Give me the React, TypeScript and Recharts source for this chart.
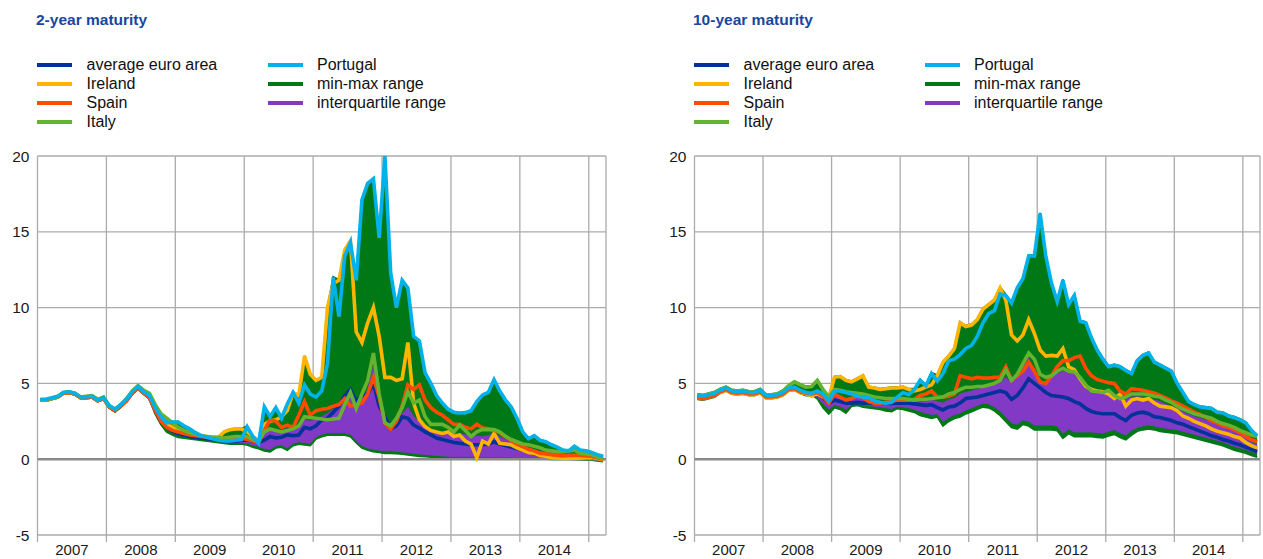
import React from 'react'
import {
  ComposedChart,
  Line,
  Area,
  XAxis,
  YAxis,
  CartesianGrid,
  ReferenceLine,
} from 'recharts'

// monthly observations, Jan 2007 - Mar 2015
const years = ['2007', '2008', '2009', '2010', '2011', '2012', '2013', '2014']
const yTicks = [-5, 0, 5, 10, 15, 20]
const monthTicks = [0, 12, 24, 36, 48, 60, 72, 84, 96, 99]

// ---- 2-year maturity ----
const avg2 = [
  3.9, 3.9, 4.0, 4.1, 4.35, 4.4, 4.3, 4.05, 4.05, 4.1, 3.85, 4.0,
  3.45, 3.2, 3.5, 3.85, 4.35, 4.7, 4.35, 4.05, 3.2, 2.5, 2.1, 1.85,
  1.7, 1.6, 1.5, 1.45, 1.4, 1.35, 1.3, 1.25, 1.2, 1.2, 1.2, 1.25,
  1.25, 1.2, 1.1, 1.25, 1.5, 1.4, 1.45, 1.6, 1.55, 1.6, 2.1, 2.0,
  2.2, 2.6, 2.7, 3.1, 3.5, 4.2, 4.6, 3.8, 4.2, 4.3, 5.0, 3.5,
  2.8, 2.0, 2.2, 2.8, 2.7, 2.25, 2.05, 1.8, 1.6, 1.4, 1.3, 1.2,
  1.1, 1.05, 1.0, 0.95, 0.95, 0.95, 1.0, 1.15, 1.0, 0.9, 0.8, 0.7,
  0.6, 0.5, 0.4, 0.35, 0.3, 0.22, 0.2, 0.2, 0.2, 0.2, 0.15, 0.12,
  0.1, 0.05, -0.05,
]
const ie2 = [
  3.9, 3.9, 4.0, 4.1, 4.35, 4.4, 4.3, 4.05, 4.05, 4.1, 3.85, 4.0,
  3.5, 3.25, 3.55, 3.9, 4.4, 4.75, 4.4, 4.15, 3.35, 2.7, 2.3, 2.1,
  1.9, 1.85, 1.75, 1.65, 1.55, 1.5, 1.45, 1.45, 1.8, 1.95, 2.0, 2.0,
  1.8, 1.5, 1.2, 2.3, 2.5, 2.6, 2.8, 3.2, 4.4, 4.2, 6.8, 5.6,
  5.2, 5.4, 10.0, 11.6, 11.8, 13.8, 14.4, 8.4, 7.7, 9.0, 10.0, 8.1,
  5.4, 5.4, 5.2, 5.3, 7.7, 3.7, 2.6, 2.15, 1.9, 1.8, 1.7, 1.8,
  1.5, 1.6, 1.2, 1.0, 0.1, 1.2, 1.0, 1.7, 1.05, 1.0, 0.95, 0.75,
  0.6, 0.45, 0.4, 0.25, 0.2, 0.1, 0.08, 0.07, 0.07, 0.07, 0.08, 0.1,
  0.12, 0.05, -0.05,
]
const es2 = [
  3.9, 3.9, 4.0, 4.1, 4.35, 4.4, 4.3, 4.05, 4.05, 4.1, 3.85, 4.0,
  3.45, 3.2, 3.5, 3.85, 4.35, 4.7, 4.35, 4.05, 3.2, 2.5, 2.1, 1.9,
  1.8, 1.7, 1.6, 1.55, 1.5, 1.45, 1.4, 1.35, 1.3, 1.3, 1.3, 1.4,
  1.3, 1.2, 1.1, 1.9, 2.6, 2.5, 2.1, 2.25, 2.1, 2.9, 3.8, 2.9,
  3.2, 3.3, 3.35, 3.5, 3.6, 4.0, 3.5, 3.6, 3.7, 4.3, 5.4, 4.1,
  2.4, 2.0, 2.5, 3.5, 4.9, 4.6, 4.9, 3.9, 3.4, 3.1, 2.9, 2.6,
  2.3, 2.3, 2.1, 2.0, 2.3, 2.05, 2.0, 1.9, 1.75, 1.5, 1.2, 1.0,
  0.85, 0.65, 0.55, 0.4, 0.35, 0.3, 0.25, 0.22, 0.25, 0.25, 0.25, 0.22,
  0.2, 0.1, 0.0,
]
const it2 = [
  3.9, 3.9, 4.0, 4.1, 4.4, 4.45, 4.35, 4.1, 4.15, 4.2, 3.95, 4.1,
  3.5, 3.3, 3.6, 4.0, 4.5, 4.85, 4.55, 4.35, 3.6, 3.0, 2.7, 2.4,
  2.1, 1.9, 1.75, 1.65, 1.55, 1.5, 1.45, 1.45, 1.4, 1.45, 1.5, 1.5,
  1.5, 1.3, 1.2, 1.8, 2.0, 1.9, 1.8, 1.9, 2.0, 2.2, 2.8, 2.75,
  2.7, 2.65, 2.6, 2.65, 2.7, 3.6, 4.4, 3.35, 4.3, 5.2, 7.0, 4.3,
  2.4, 2.2, 2.7, 3.4, 4.45, 3.7, 3.9, 2.8, 2.3, 2.3, 2.3, 2.1,
  1.8, 2.25, 1.9, 1.5, 1.8, 1.97, 1.95, 1.95, 1.8, 1.5, 1.3, 1.15,
  1.0, 0.95, 0.85, 0.75, 0.6, 0.55, 0.5, 0.5, 0.55, 0.6, 0.4, 0.35,
  0.3, 0.15, 0.05,
]
const pt2 = [
  3.95, 3.95, 4.05, 4.15, 4.4, 4.45, 4.35, 4.1, 4.1, 4.15, 3.9, 4.05,
  3.55, 3.3, 3.6, 3.95, 4.45, 4.8, 4.45, 4.2, 3.4, 2.8, 2.4, 2.45,
  2.45, 2.2, 2.0, 1.75, 1.55, 1.45, 1.35, 1.25, 1.2, 1.2, 1.25, 1.3,
  2.15, 1.5, 1.05, 3.45, 2.8, 3.4, 2.7, 3.65, 4.4, 3.7, 4.9, 4.3,
  4.1, 4.5, 6.3, 12.0, 9.4, 13.4, 14.3, 11.8, 17.1, 18.2, 18.5, 14.6,
  20.0, 12.3, 10.0, 11.8, 11.3, 8.1, 7.8, 5.7, 5.0, 4.2, 3.7, 3.3,
  3.1, 3.05, 3.07, 3.2, 3.8, 4.23, 4.4, 5.25, 4.5, 3.9, 3.45, 2.7,
  1.8, 1.35, 1.55, 1.25, 1.15, 0.95, 0.8, 0.6, 0.55, 0.85, 0.6, 0.55,
  0.45, 0.3, 0.2,
]
const min2 = [
  3.85, 3.85, 3.95, 4.05, 4.3, 4.35, 4.25, 4.0, 4.0, 4.05, 3.8, 3.95,
  3.4, 3.15, 3.45, 3.8, 4.3, 4.65, 4.3, 4.0, 3.0, 2.3, 1.8, 1.6,
  1.45, 1.4, 1.35, 1.3, 1.25, 1.2, 1.15, 1.1, 1.05, 1.0, 1.0, 1.0,
  0.95, 0.8, 0.7, 0.55, 0.5, 0.75, 0.8, 0.6, 0.9, 1.0, 0.95, 0.9,
  1.35, 1.5, 1.6, 1.6, 1.6, 1.6, 1.5, 1.1, 0.75, 0.6, 0.5, 0.45,
  0.4, 0.4, 0.38, 0.35, 0.3, 0.25, 0.2, 0.18, 0.15, 0.12, 0.1, 0.08,
  0.06, 0.05, 0.05, 0.05, 0.05, 0.05, 0.05, 0.05, 0.05, 0.05, 0.04, 0.04,
  0.04, 0.03, 0.03, 0.02, 0.02, 0.0, 0.0, 0.0, 0.0, -0.02, -0.03, -0.05,
  -0.05, -0.1, -0.15,
]
const max2 = [
  3.97, 3.97, 4.07, 4.17, 4.42, 4.47, 4.37, 4.12, 4.17, 4.22, 3.97, 4.12,
  3.57, 3.32, 3.62, 4.02, 4.52, 4.87, 4.57, 4.37, 3.62, 3.02, 2.72, 2.47,
  2.47, 2.22, 2.02, 1.77, 1.57, 1.52, 1.47, 1.47, 1.82, 1.97, 2.02, 2.02,
  2.17, 1.52, 1.22, 3.47, 2.82, 3.42, 2.82, 3.67, 4.42, 4.22, 6.82, 5.62,
  5.22, 5.42, 10.02, 12.02, 11.82, 13.82, 14.42, 11.82, 17.12, 18.22, 18.52, 14.62,
  20.0, 12.32, 10.02, 11.82, 11.32, 8.12, 7.82, 5.72, 5.02, 4.22, 3.72, 3.32,
  3.12, 3.07, 3.09, 3.22, 3.82, 4.25, 4.42, 5.27, 4.52, 3.92, 3.47, 2.72,
  1.82, 1.37, 1.57, 1.27, 1.17, 0.97, 0.82, 0.62, 0.57, 0.87, 0.62, 0.57,
  0.47, 0.32, 0.22,
]
const q1_2 = [
  3.88, 3.88, 3.98, 4.08, 4.33, 4.38, 4.28, 4.03, 4.03, 4.08, 3.83, 3.98,
  3.43, 3.18, 3.48, 3.83, 4.33, 4.68, 4.33, 4.02, 3.1, 2.4, 1.95, 1.75,
  1.6, 1.55, 1.45, 1.4, 1.35, 1.3, 1.25, 1.2, 1.15, 1.1, 1.1, 1.1,
  1.05, 0.95, 0.85, 0.7, 0.65, 0.9, 0.95, 0.75, 1.05, 1.15, 1.1, 1.05,
  1.5, 1.65, 1.75, 1.75, 1.75, 1.75, 1.65, 1.25, 0.9, 0.75, 0.65, 0.6,
  0.55, 0.55, 0.52, 0.48, 0.45, 0.4, 0.35, 0.32, 0.28, 0.25, 0.22, 0.2,
  0.18, 0.18, 0.17, 0.16, 0.16, 0.15, 0.15, 0.15, 0.15, 0.14, 0.13, 0.12,
  0.12, 0.1, 0.1, 0.08, 0.08, 0.06, 0.05, 0.05, 0.05, 0.04, 0.02, 0.0,
  -0.02, -0.05, -0.1,
]
const q3_2 = [
  3.92, 3.92, 4.02, 4.12, 4.37, 4.42, 4.32, 4.07, 4.07, 4.12, 3.87, 4.02,
  3.5, 3.25, 3.55, 3.9, 4.4, 4.75, 4.4, 4.1, 3.3, 2.6, 2.2, 2.0,
  1.8, 1.7, 1.6, 1.55, 1.5, 1.45, 1.4, 1.35, 1.3, 1.3, 1.3, 1.35,
  1.35, 1.25, 1.15, 1.6, 2.1, 1.8, 1.9, 2.0, 2.0, 2.2, 2.6, 2.5,
  2.6, 2.8, 3.0, 3.3, 3.5, 4.0, 4.3, 3.7, 4.0, 4.6, 6.1, 4.0,
  3.0, 2.0, 2.4, 3.0, 3.4, 2.8, 2.4, 2.2, 1.9, 1.75, 1.7, 1.7,
  1.7, 1.65, 1.6, 1.55, 1.5, 1.48, 1.55, 1.7, 1.45, 1.3, 1.15, 1.0,
  0.85, 0.72, 0.6, 0.5, 0.45, 0.4, 0.36, 0.34, 0.34, 0.34, 0.3, 0.25,
  0.2, 0.1, 0.04,
]

// ---- 10-year maturity ----
const avg10 = [
  4.05, 4.0, 4.1, 4.2, 4.45, 4.6, 4.4, 4.35, 4.4, 4.3, 4.3, 4.45,
  4.1, 4.1, 4.15, 4.3, 4.6, 4.65, 4.45, 4.3, 4.2, 4.3, 4.05, 3.7,
  3.9, 3.8, 3.7, 3.7, 3.75, 3.7, 3.7, 3.7, 3.7, 3.7, 3.68, 3.7,
  3.7, 3.7, 3.65, 3.6, 3.55, 3.6, 3.4, 3.25, 3.45, 3.5, 3.7, 4.0,
  4.05, 4.1, 4.2, 4.3, 4.4, 4.5, 4.4, 3.95, 4.2, 4.7, 5.3, 5.0,
  4.7, 4.4, 4.2, 4.15, 4.1, 4.0, 3.8, 3.65, 3.35, 3.15, 3.05, 3.0,
  3.0, 3.0, 2.75, 2.55, 2.9, 3.05, 3.1, 3.0, 2.8, 2.75, 2.65, 2.55,
  2.4, 2.3, 2.15, 2.0, 1.85, 1.7, 1.55, 1.45, 1.3, 1.2, 1.05, 0.95,
  0.8, 0.65, 0.5,
]
const ie10 = [
  4.05, 4.0, 4.1, 4.2, 4.4, 4.55, 4.35, 4.3, 4.35, 4.25, 4.25, 4.4,
  4.05, 4.05, 4.1, 4.25, 4.55, 4.6, 4.4, 4.3, 4.2, 4.3, 4.1, 4.0,
  5.4, 5.45, 5.2, 5.1, 5.3, 5.5, 4.75, 4.7, 4.6, 4.65, 4.7, 4.7,
  4.75, 4.6, 4.5, 4.6, 4.75, 4.9, 5.5, 6.4, 6.8, 7.3, 9.0, 8.75,
  8.85, 9.2, 9.9, 10.2, 10.5, 11.3, 10.5, 8.2, 7.8, 8.2, 9.2, 8.3,
  7.2, 6.8, 6.85, 6.8, 7.3, 6.1, 5.9, 5.3, 4.8, 4.6, 4.5, 4.45,
  4.3, 4.0, 4.3, 3.5, 3.9, 4.0, 3.9, 4.0, 3.7, 3.5, 3.45, 3.4,
  3.2, 2.85, 2.7, 2.5, 2.35, 2.2, 2.0, 1.85, 1.75, 1.65, 1.5, 1.4,
  1.1, 0.9, 0.75,
]
const es10 = [
  4.05, 4.0, 4.1, 4.2, 4.45, 4.6, 4.4, 4.35, 4.4, 4.3, 4.3, 4.45,
  4.1, 4.1, 4.15, 4.3, 4.6, 4.65, 4.45, 4.35, 4.3, 4.4, 4.15, 3.7,
  4.3, 4.1, 3.9, 4.0, 4.2, 4.05, 3.8, 3.7, 3.7, 3.75, 3.8, 3.9,
  3.9, 3.9, 3.95, 4.2, 4.3, 4.5, 4.1, 4.1, 4.15, 4.3, 5.5, 5.4,
  5.3, 5.4, 5.35, 5.35, 5.4, 5.4, 6.1, 5.2, 5.5, 5.8, 6.4, 5.8,
  5.1, 5.0, 5.5, 6.1, 6.5, 6.5, 6.7, 6.8, 6.0, 5.5, 5.25, 5.15,
  5.05, 5.0, 4.5, 4.3, 4.65, 4.6, 4.55, 4.45, 4.35, 4.2, 4.05, 3.85,
  3.7, 3.5, 3.3, 3.1, 2.95, 2.75, 2.55, 2.4, 2.2, 2.1, 1.95, 1.75,
  1.5, 1.3, 1.15,
]
const it10 = [
  4.25, 4.2, 4.3, 4.4, 4.6, 4.75, 4.55, 4.5, 4.55, 4.45, 4.45, 4.6,
  4.25, 4.25, 4.3, 4.5, 4.85, 5.1, 4.9, 4.75, 4.8, 5.2, 4.6, 4.1,
  4.6, 4.55, 4.45, 4.4, 4.35, 4.3, 4.2, 4.1, 4.05, 4.0, 4.0, 4.0,
  4.0, 3.95, 3.9, 3.95, 3.95, 4.0, 4.05, 4.1, 4.3, 4.4, 4.6, 4.75,
  4.75, 4.8, 4.8, 4.9, 5.0, 5.2, 5.9, 5.2, 5.6, 6.3, 7.0, 6.6,
  5.6, 5.4, 5.5, 5.8, 6.0, 5.8, 5.75, 5.4, 4.9, 4.5, 4.45, 4.4,
  4.55, 4.2, 4.0, 4.1, 4.3, 4.3, 4.3, 4.25, 4.15, 4.1, 3.9, 3.75,
  3.5, 3.3, 3.15, 3.0, 2.9, 2.8, 2.7, 2.5, 2.35, 2.25, 2.1, 1.9,
  1.75, 1.6, 1.5,
]
const pt10 = [
  4.2, 4.15, 4.25, 4.35, 4.55, 4.7, 4.5, 4.45, 4.5, 4.4, 4.4, 4.55,
  4.2, 4.2, 4.25, 4.4, 4.7, 4.75, 4.55, 4.4, 4.35, 4.5, 4.3, 3.85,
  4.5, 4.5, 4.4, 4.3, 4.15, 4.1, 4.05, 3.85, 3.75, 3.7, 3.75, 4.1,
  4.4, 4.25, 4.6, 5.2, 4.85, 5.65, 5.15, 5.65, 6.5, 6.6, 6.9, 7.3,
  7.5, 8.1, 9.0, 9.6, 9.8, 10.9, 10.8, 10.3, 11.3, 11.9, 13.4, 13.4,
  16.2, 13.4, 11.6, 10.4, 11.8, 10.2, 10.8, 9.1, 9.0, 8.0, 7.2, 6.6,
  6.1, 6.2, 6.1, 5.85, 5.65, 6.5, 6.85, 7.0, 6.4, 6.2, 6.0, 5.8,
  5.0, 4.4, 3.8, 3.6, 3.45, 3.4, 3.35, 3.1, 3.05, 2.85, 2.75, 2.6,
  2.4, 1.9, 1.55,
]
const min10 = [
  3.95, 3.9, 4.0, 4.1, 4.35, 4.5, 4.3, 4.25, 4.3, 4.2, 4.2, 4.35,
  4.0, 4.0, 4.05, 4.2, 4.5, 4.55, 4.35, 4.2, 4.25, 4.0, 3.4, 3.0,
  3.4, 3.3, 3.05, 3.5, 3.55, 3.45, 3.4, 3.35, 3.3, 3.2, 3.15, 3.35,
  3.3, 3.2, 3.1, 2.9, 2.8, 2.7, 2.8, 2.2, 2.5, 2.7, 2.8, 3.0,
  3.15, 3.3, 3.45, 3.4, 3.2, 2.9, 2.5, 2.1, 2.0, 2.3, 2.2, 1.95,
  1.95, 1.95, 1.95, 1.9, 1.4, 1.7, 1.5, 1.5, 1.5, 1.5, 1.45, 1.42,
  1.55, 1.65, 1.45, 1.3, 1.6, 1.85, 1.95, 2.0, 1.95, 1.85, 1.8, 1.75,
  1.7, 1.6, 1.5, 1.4, 1.3, 1.2, 1.1, 1.0, 0.9, 0.75, 0.6, 0.5,
  0.4, 0.25, 0.15,
]
const max10 = [
  4.3, 4.25, 4.35, 4.45, 4.65, 4.8, 4.6, 4.55, 4.6, 4.5, 4.5, 4.65,
  4.3, 4.3, 4.35, 4.55, 4.9, 5.15, 4.95, 4.8, 4.85, 5.25, 4.65, 4.15,
  5.45, 5.5, 5.25, 5.15, 5.35, 5.55, 4.8, 4.75, 4.65, 4.7, 4.75, 4.75,
  4.8, 4.65, 4.65, 5.25, 4.9, 5.7, 5.55, 6.45, 6.85, 7.35, 9.05, 8.8,
  8.9, 9.25, 9.95, 10.25, 10.55, 11.35, 10.85, 10.35, 11.35, 11.95, 13.45, 13.45,
  16.25, 13.45, 11.65, 10.45, 11.85, 10.25, 10.85, 9.15, 9.05, 8.05, 7.25, 6.65,
  6.15, 6.25, 6.15, 5.9, 5.7, 6.55, 6.9, 7.05, 6.45, 6.25, 6.05, 5.85,
  5.05, 4.45, 3.85, 3.65, 3.5, 3.45, 3.4, 3.15, 3.1, 2.9, 2.8, 2.65,
  2.45, 1.95, 1.6,
]
const q1_10 = [
  4.0, 3.95, 4.05, 4.15, 4.4, 4.55, 4.35, 4.3, 4.35, 4.25, 4.25, 4.4,
  4.05, 4.05, 4.1, 4.25, 4.55, 4.6, 4.4, 4.25, 4.3, 4.1, 3.7, 3.3,
  3.6, 3.5, 3.3, 3.6, 3.7, 3.6, 3.55, 3.5, 3.45, 3.4, 3.35, 3.5,
  3.45, 3.4, 3.3, 3.15, 3.05, 2.95, 3.0, 2.5, 2.75, 2.95, 3.05, 3.25,
  3.4, 3.55, 3.7, 3.65, 3.45, 3.2, 2.8, 2.4, 2.3, 2.6, 2.5, 2.25,
  2.25, 2.25, 2.25, 2.2, 1.7, 2.0, 1.8, 1.8, 1.8, 1.8, 1.75, 1.72,
  1.85, 1.95, 1.75, 1.6, 1.9, 2.1, 2.2, 2.25, 2.2, 2.1, 2.05, 2.0,
  1.95, 1.85, 1.75, 1.65, 1.55, 1.45, 1.35, 1.25, 1.15, 1.0, 0.85, 0.75,
  0.65, 0.5, 0.4,
]
const q3_10 = [
  4.1, 4.05, 4.15, 4.25, 4.5, 4.65, 4.45, 4.4, 4.45, 4.35, 4.35, 4.5,
  4.15, 4.15, 4.2, 4.35, 4.65, 4.7, 4.5, 4.35, 4.3, 4.4, 4.15, 3.8,
  4.3, 4.1, 3.95, 4.0, 4.2, 4.05, 3.85, 3.75, 3.75, 3.75, 3.8, 3.9,
  3.9, 3.85, 3.8, 3.85, 3.85, 3.9, 3.8, 3.7, 3.9, 4.0, 4.3, 4.4,
  4.5, 4.6, 4.7, 4.85, 4.95, 5.0, 5.4, 5.0, 5.4, 6.1, 6.65, 5.5,
  5.0, 5.0, 5.4, 5.6, 5.8, 5.8, 6.1, 5.3, 4.7, 4.4, 4.3, 4.3,
  4.3, 4.1, 3.9, 3.9, 4.1, 4.1, 4.1, 4.0, 3.9, 3.8, 3.6, 3.5,
  3.3, 3.1, 2.95, 2.8, 2.7, 2.55, 2.45, 2.3, 2.15, 2.0, 1.85, 1.7,
  1.45, 1.1, 0.95,
]

const C = {
  avg: '#003299',
  ie: '#ffb400',
  es: '#ff4b00',
  it: '#65b32e',
  pt: '#00b1ea',
  range: '#007816',
  iqr: '#8139c6',
}
const GRID = '#ababab'
const FONT = '"Liberation Sans", Arial, sans-serif'

const legendCol1 = [
  { label: 'average euro area', color: C.avg },
  { label: 'Ireland', color: C.ie },
  { label: 'Spain', color: C.es },
  { label: 'Italy', color: C.it },
]
const legendCol2 = [
  { label: 'Portugal', color: C.pt },
  { label: 'min-max range', color: C.range },
  { label: 'interquartile range', color: C.iqr },
]

type Set = {
  avg: number[]; ie: number[]; es: number[]; it: number[]; pt: number[]
  min: number[]; max: number[]; q1: number[]; q3: number[]
}

const buildRows = (s: Set) =>
  s.avg.map((_, i) => ({
    x: i + 0.5,
    avg: s.avg[i],
    ie: s.ie[i],
    es: s.es[i],
    it: s.it[i],
    pt: s.pt[i],
    range: [s.min[i], s.max[i]],
    iqr: [s.q1[i], s.q3[i]],
  }))

const rows2 = buildRows({ avg: avg2, ie: ie2, es: es2, it: it2, pt: pt2, min: min2, max: max2, q1: q1_2, q3: q3_2 })
const rows10 = buildRows({ avg: avg10, ie: ie10, es: es10, it: it10, pt: pt10, min: min10, max: max10, q1: q1_10, q3: q3_10 })

const CHART_H = 559
const PLOT_TOP = 156
const X_H = 24
const Y_W = 37.5

const LegendCol = ({ items, lineX, textX }: { items: typeof legendCol1; lineX: number; textX: number }) => (
  <>
    {items.map((it, i) => (
      <div key={it.label} style={{ position: 'absolute', top: 54.5 + i * 19.2, left: 0, height: 20, width: 1 }}>
        <div style={{ position: 'absolute', left: lineX, top: 8, width: 35, height: 4, background: it.color }} />
        <div style={{ position: 'absolute', left: textX, top: 0, lineHeight: '20px', fontSize: 16, color: '#111', whiteSpace: 'nowrap' }}>
          {it.label}
        </div>
      </div>
    ))}
  </>
)

const Panel = ({ left, width, rightGap, title, rows }: { left: number; width: number; rightGap: number; title: string; rows: any[] }) => {
  const plotW = width - Y_W - rightGap
  const halfYear = (plotW * 6) / 99
  const renderTick = (p: any) => {
    const v = p.payload.value
    if (v >= 99) return <g />
    const label = years[v / 12]
    return (
      <g>
        <line x1={p.x} y1={p.y} x2={p.x} y2={p.y + 7} stroke={GRID} strokeWidth={1.3} />
        {label && (
          <text x={p.x + halfYear} y={p.y + 20} textAnchor="middle" fontSize={15} fill="#1a1a1a">
            {label}
          </text>
        )}
      </g>
    )
  }
  return (
    <div style={{ position: 'absolute', left, top: 0, width, height: CHART_H, fontFamily: FONT }}>
      <div style={{ position: 'absolute', left: 36, top: 10, lineHeight: '20px', fontSize: 15.5, fontWeight: 'bold', color: '#17479e', whiteSpace: 'nowrap' }}>
        {title}
      </div>
      <LegendCol items={legendCol1} lineX={36.5} textX={86.5} />
      <LegendCol items={legendCol2} lineX={268} textX={317} />
      <ComposedChart width={width} height={CHART_H} data={rows} margin={{ top: PLOT_TOP, right: rightGap, bottom: 0, left: 0 }}>
        <CartesianGrid stroke={GRID} strokeWidth={1.3} />
        <XAxis
          type="number"
          dataKey="x"
          domain={[0, 99]}
          ticks={monthTicks}
          interval={0}
          height={X_H}
          axisLine={false}
          tickLine={false}
          tickSize={0}
          tickMargin={0}
          tick={renderTick}
        />
        <YAxis
          type="number"
          domain={[-5, 20]}
          ticks={yTicks}
          interval={0}
          width={Y_W}
          axisLine={false}
          tickLine={false}
          tickSize={0}
          tickMargin={8}
          tick={{ fontSize: 15.5, fill: '#1a1a1a' }}
        />
        <Area type="linear" dataKey="range" stroke={C.range} strokeWidth={2} fill={C.range} fillOpacity={1} isAnimationActive={false} dot={false} activeDot={false} />
        <Area type="linear" dataKey="iqr" stroke={C.iqr} strokeWidth={1} fill={C.iqr} fillOpacity={1} isAnimationActive={false} dot={false} activeDot={false} />
        <ReferenceLine y={0} stroke="#8a8a8a" strokeWidth={2.5} />
        <Line type="linear" dataKey="avg" stroke={C.avg} strokeWidth={3.6} dot={false} activeDot={false} isAnimationActive={false} />
        <Line type="linear" dataKey="ie" stroke={C.ie} strokeWidth={3.6} dot={false} activeDot={false} isAnimationActive={false} />
        <Line type="linear" dataKey="es" stroke={C.es} strokeWidth={3.6} dot={false} activeDot={false} isAnimationActive={false} />
        <Line type="linear" dataKey="it" stroke={C.it} strokeWidth={3.6} dot={false} activeDot={false} isAnimationActive={false} />
        <Line type="linear" dataKey="pt" stroke={C.pt} strokeWidth={3.6} dot={false} activeDot={false} isAnimationActive={false} />
      </ComposedChart>
    </div>
  )
}

export default function App() {
  return (
    <div style={{ position: 'absolute', left: 0, top: 0, width: 1263, height: CHART_H, background: '#fff' }}>
      <Panel left={0} width={620} rightGap={14} title="2-year maturity" rows={rows2} />
      <Panel left={657} width={606} rightGap={3} title="10-year maturity" rows={rows10} />
    </div>
  )
}
